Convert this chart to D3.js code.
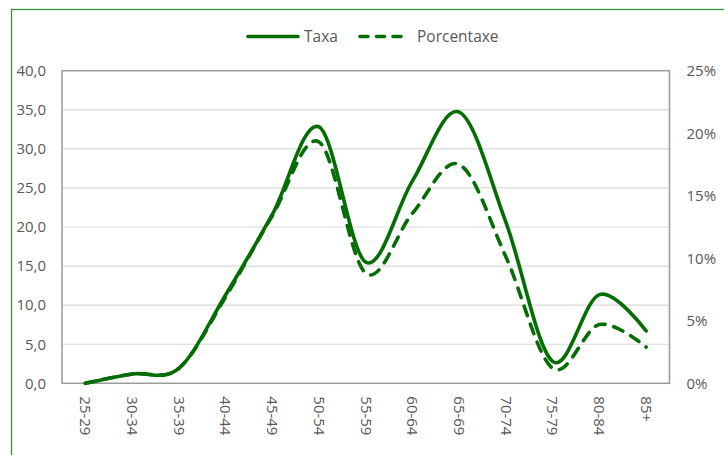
<!DOCTYPE html>
<html>
<head>
<meta charset="utf-8">
<script src="https://cdn.jsdelivr.net/npm/d3@7"></script>
<style>
  html, body { margin: 0; padding: 0; background: #fff; }
  svg { display: block; }
  text { font-family: "Open Sans", "Noto Sans", sans-serif; fill: #595959; }
</style>
</head>
<body>
<svg id="chart" width="724" height="455"></svg>
<script>
// Age groups on the category axis
const ageGroups = ["25-29", "30-34", "35-39", "40-44", "45-49", "50-54", "55-59",
                   "60-64", "65-69", "70-74", "75-79", "80-84", "85+"];
// Rate (left axis)
const taxa = [0.0, 1.2, 1.9, 11.3, 21.6, 32.8, 15.5, 25.9, 34.7, 20.6, 2.8, 11.35, 6.7];
// Share in percent (right axis)
const porcentaxe = [0.0, 0.75, 1.2, 6.9, 13.4, 19.3, 8.8, 13.6, 17.5, 10.1, 1.2, 4.7, 2.9];
// Axis ticks
const leftTicks = [0, 5, 10, 15, 20, 25, 30, 35, 40];
const rightTicks = [0, 5, 10, 15, 20, 25];
const seriesNames = ["Taxa", "Porcentaxe"];

const green = "#046d04";
const svg = d3.select("#chart");

// Outer chart frame
svg.append("rect")
  .attr("x", 11.5).attr("y", 9.5)
  .attr("width", 760).attr("height", 500)
  .attr("fill", "none")
  .attr("stroke", "#3a8f3a")
  .attr("stroke-width", 1.3);

const plot = { left: 62, right: 669.5, top: 70.7, bottom: 383.3 };

const x = d3.scaleBand().domain(ageGroups).range([plot.left, plot.right]).padding(0);
const yL = d3.scaleLinear().domain([0, 40]).range([plot.bottom, plot.top]);
const yR = d3.scaleLinear().domain([0, 25]).range([plot.bottom, plot.top]);
const cx = d => x(d) + x.bandwidth() / 2;

// Horizontal gridlines
svg.append("g")
  .selectAll("line")
  .data(leftTicks.filter(t => t > 0 && t < 40))
  .join("line")
  .attr("x1", plot.left).attr("x2", plot.right)
  .attr("y1", d => yL(d)).attr("y2", d => yL(d))
  .attr("stroke", "#d9d9d9").attr("stroke-width", 1.2);

// Plot area border
svg.append("rect")
  .attr("x", plot.left).attr("y", plot.top)
  .attr("width", plot.right - plot.left).attr("height", plot.bottom - plot.top)
  .attr("fill", "none")
  .attr("stroke", "#9a9a9a").attr("stroke-width", 1.5);

// Left axis
const fmtL = d => d3.format(".1f")(d).replace(".", ",");
const leftAxis = svg.append("g")
  .attr("transform", `translate(${plot.left},0)`)
  .call(d3.axisLeft(yL).tickValues(leftTicks).tickFormat(fmtL).tickSize(0).tickPadding(16));
leftAxis.select(".domain").remove();
leftAxis.selectAll("text")
  .style("font-family", '"Open Sans", sans-serif')
  .style("font-size", "15px").attr("fill", "#595959");

// Right axis
const rightAxis = svg.append("g")
  .attr("transform", `translate(${plot.right},0)`)
  .call(d3.axisRight(yR).tickValues(rightTicks).tickFormat(d => d + "%").tickSize(0).tickPadding(17));
rightAxis.select(".domain").remove();
rightAxis.selectAll("text")
  .style("font-family", '"Open Sans", sans-serif')
  .style("font-size", "15px").attr("fill", "#595959");

// Bottom axis with vertical labels
const bottomAxis = svg.append("g")
  .attr("transform", `translate(0,${plot.bottom})`)
  .call(d3.axisBottom(x).tickSize(0));
bottomAxis.select(".domain").remove();
bottomAxis.selectAll("text")
  .style("font-family", '"Open Sans", sans-serif')
  .style("font-size", "15px").attr("fill", "#595959")
  .attr("transform", "rotate(90)")
  .attr("x", 13).attr("y", 0).attr("dy", "0.35em")
  .attr("text-anchor", "start");

// Series lines (smoothed)
const curve = d3.curveCardinal.tension(0);
const lineL = d3.line().x((d, i) => cx(ageGroups[i])).y(d => yL(d)).curve(curve);
const lineR = d3.line().x((d, i) => cx(ageGroups[i])).y(d => yR(d)).curve(curve);

svg.append("path")
  .datum(porcentaxe)
  .attr("d", lineR)
  .attr("fill", "none")
  .attr("stroke", green).attr("stroke-width", 3.6)
  .attr("stroke-linecap", "round")
  .attr("stroke-dasharray", "10 9");

svg.append("path")
  .datum(taxa)
  .attr("d", lineL)
  .attr("fill", "none")
  .attr("stroke", green).attr("stroke-width", 3.6)
  .attr("stroke-linecap", "round")
  .attr("stroke-linejoin", "round");

// Legend
const legend = svg.append("g").attr("transform", "translate(0,36.5)");
const legendItems = [
  { name: seriesNames[0], x0: 248, x1: 298, tx: 304, dash: null },
  { name: seriesNames[1], x0: 360, x1: 405, tx: 417, dash: "8 8.5" }
];
legendItems.forEach(it => {
  legend.append("line")
    .attr("x1", it.x0).attr("x2", it.x1).attr("y1", 0).attr("y2", 0)
    .attr("stroke", green).attr("stroke-width", 3.6)
    .attr("stroke-linecap", "round")
    .attr("stroke-dasharray", it.dash);
  legend.append("text")
    .attr("x", it.tx).attr("y", 0).attr("dy", "0.35em")
    .style("font-size", "15.5px")
    .text(it.name);
});
</script>
</body>
</html>
